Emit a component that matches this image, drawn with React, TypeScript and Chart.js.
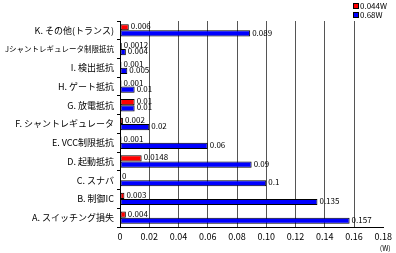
import React, { useEffect, useRef } from "react";
import { Chart, registerables } from "chart.js";

Chart.register(...registerables);

const categories = [
  "K. その他(トランス)",
  "Jシャントレギュレータ制限抵抗",
  "I. 検出抵抗",
  "H. ゲート抵抗",
  "G. 放電抵抗",
  "F. シャントレギュレータ",
  "E. VCC制限抵抗",
  "D. 起動抵抗",
  "C. スナバ",
  "B. 制御IC",
  "A. スイッチング損失",
];
const series044 = [0.006, 0.0012, 0.001, 0.001, 0.01, 0.002, 0.001, 0.0148, 0, 0.003, 0.004];
const series068 = [0.089, 0.004, 0.005, 0.01, 0.01, 0.02, 0.06, 0.09, 0.1, 0.135, 0.157];
const seriesNames = ["0.044W", "0.68W"];
const seriesColors = ["#ff0000", "#0000ff"];
const xMax = 0.18;
const xStep = 0.02;
const xTitle = "(W)";

const FONT = "'Noto Sans CJK JP', 'Noto Sans', sans-serif";

const valueLabels = {
  id: "valueLabels",
  afterDatasetsDraw(chart: any) {
    const ctx = chart.ctx;
    ctx.save();
    ctx.font = `8px ${FONT}`;
    ctx.fillStyle = "#000";
    ctx.textAlign = "left";
    ctx.textBaseline = "middle";
    chart.data.datasets.forEach((ds: any, di: number) => {
      const meta = chart.getDatasetMeta(di);
      meta.data.forEach((el: any, i: number) => {
        const v = ds.data[i];
        ctx.fillText(String(v), el.x + 2, el.y - 1);
      });
    });
    ctx.restore();
  },
};

const customLegend = {
  id: "customLegend",
  afterDraw(chart: any) {
    const ctx = chart.ctx;
    ctx.save();
    ctx.font = `8px ${FONT}`;
    ctx.textAlign = "left";
    ctx.textBaseline = "middle";
    chart.data.datasets.forEach((ds: any, i: number) => {
      const y = 6 + i * 9;
      ctx.fillStyle = ds.backgroundColor;
      ctx.fillRect(353, y - 2.5, 5, 5);
      ctx.strokeStyle = "#000";
      ctx.lineWidth = 1;
      ctx.strokeRect(353.5, y - 2.5, 5, 5);
      ctx.fillStyle = "#000";
      ctx.fillText(ds.label, 360, y);
    });
    // axis unit
    const xs = chart.scales.x;
    ctx.font = `7px ${FONT}`;
    ctx.textAlign = "center";
    ctx.fillText(xTitle, xs.getPixelForValue(xMax) + 2, 248);
    ctx.restore();
  },
};

export default function App() {
  const ref = useRef<HTMLCanvasElement>(null);
  useEffect(() => {
    if (!ref.current) return;
    const chart = new Chart(ref.current, {
      type: "bar",
      data: {
        labels: categories,
        datasets: [
          {
            label: seriesNames[0],
            data: series044,
            backgroundColor: seriesColors[0],
            borderColor: "#000",
            borderWidth: 1,
            borderSkipped: false,
          },
          {
            label: seriesNames[1],
            data: series068,
            backgroundColor: seriesColors[1],
            borderColor: "#000",
            borderWidth: 1,
            borderSkipped: false,
          },
        ],
      },
      options: {
        indexAxis: "y",
        responsive: false,
        animation: false,
        layout: { padding: { top: 21, right: 11, left: 0, bottom: 0 } },
        datasets: { bar: { categoryPercentage: 0.66, barPercentage: 1.0 } },
        plugins: { legend: { display: false }, tooltip: { enabled: false } },
        scales: {
          x: {
            min: 0,
            max: xMax,
            ticks: {
              stepSize: xStep,
              color: "#000",
              font: { family: FONT, size: 9 },
              padding: 4,
            },
            grid: {
              color: (c: any) => (c.tick && c.tick.value >= xMax - 1e-9 ? "rgba(0,0,0,0)" : "#555"),
              drawTicks: false,
              lineWidth: 1,
            },
            border: { color: "#000", width: 1 },
            afterFit: (s: any) => {
              s.height = 26;
            },
          },
          y: {
            ticks: {
              color: "#000",
              font: (c: any) => ({ family: FONT, size: c.index === 1 ? 7.5 : 9 }),
              padding: 3,
              autoSkip: false,
            },
            grid: {
              drawOnChartArea: false,
              drawTicks: true,
              tickLength: 3,
              color: "#000",
            },
            border: { color: "#000", width: 1 },
            afterFit: (s: any) => {
              s.width = 120;
            },
          },
        },
      },
      plugins: [valueLabels, customLegend],
    });
    return () => chart.destroy();
  }, []);
  return (
    <div style={{ position: "absolute", left: 0, top: 0, width: 396, height: 253, background: "#fff" }}>
      <canvas ref={ref} width={396} height={253} style={{ width: 396, height: 253 }} />
    </div>
  );
}
